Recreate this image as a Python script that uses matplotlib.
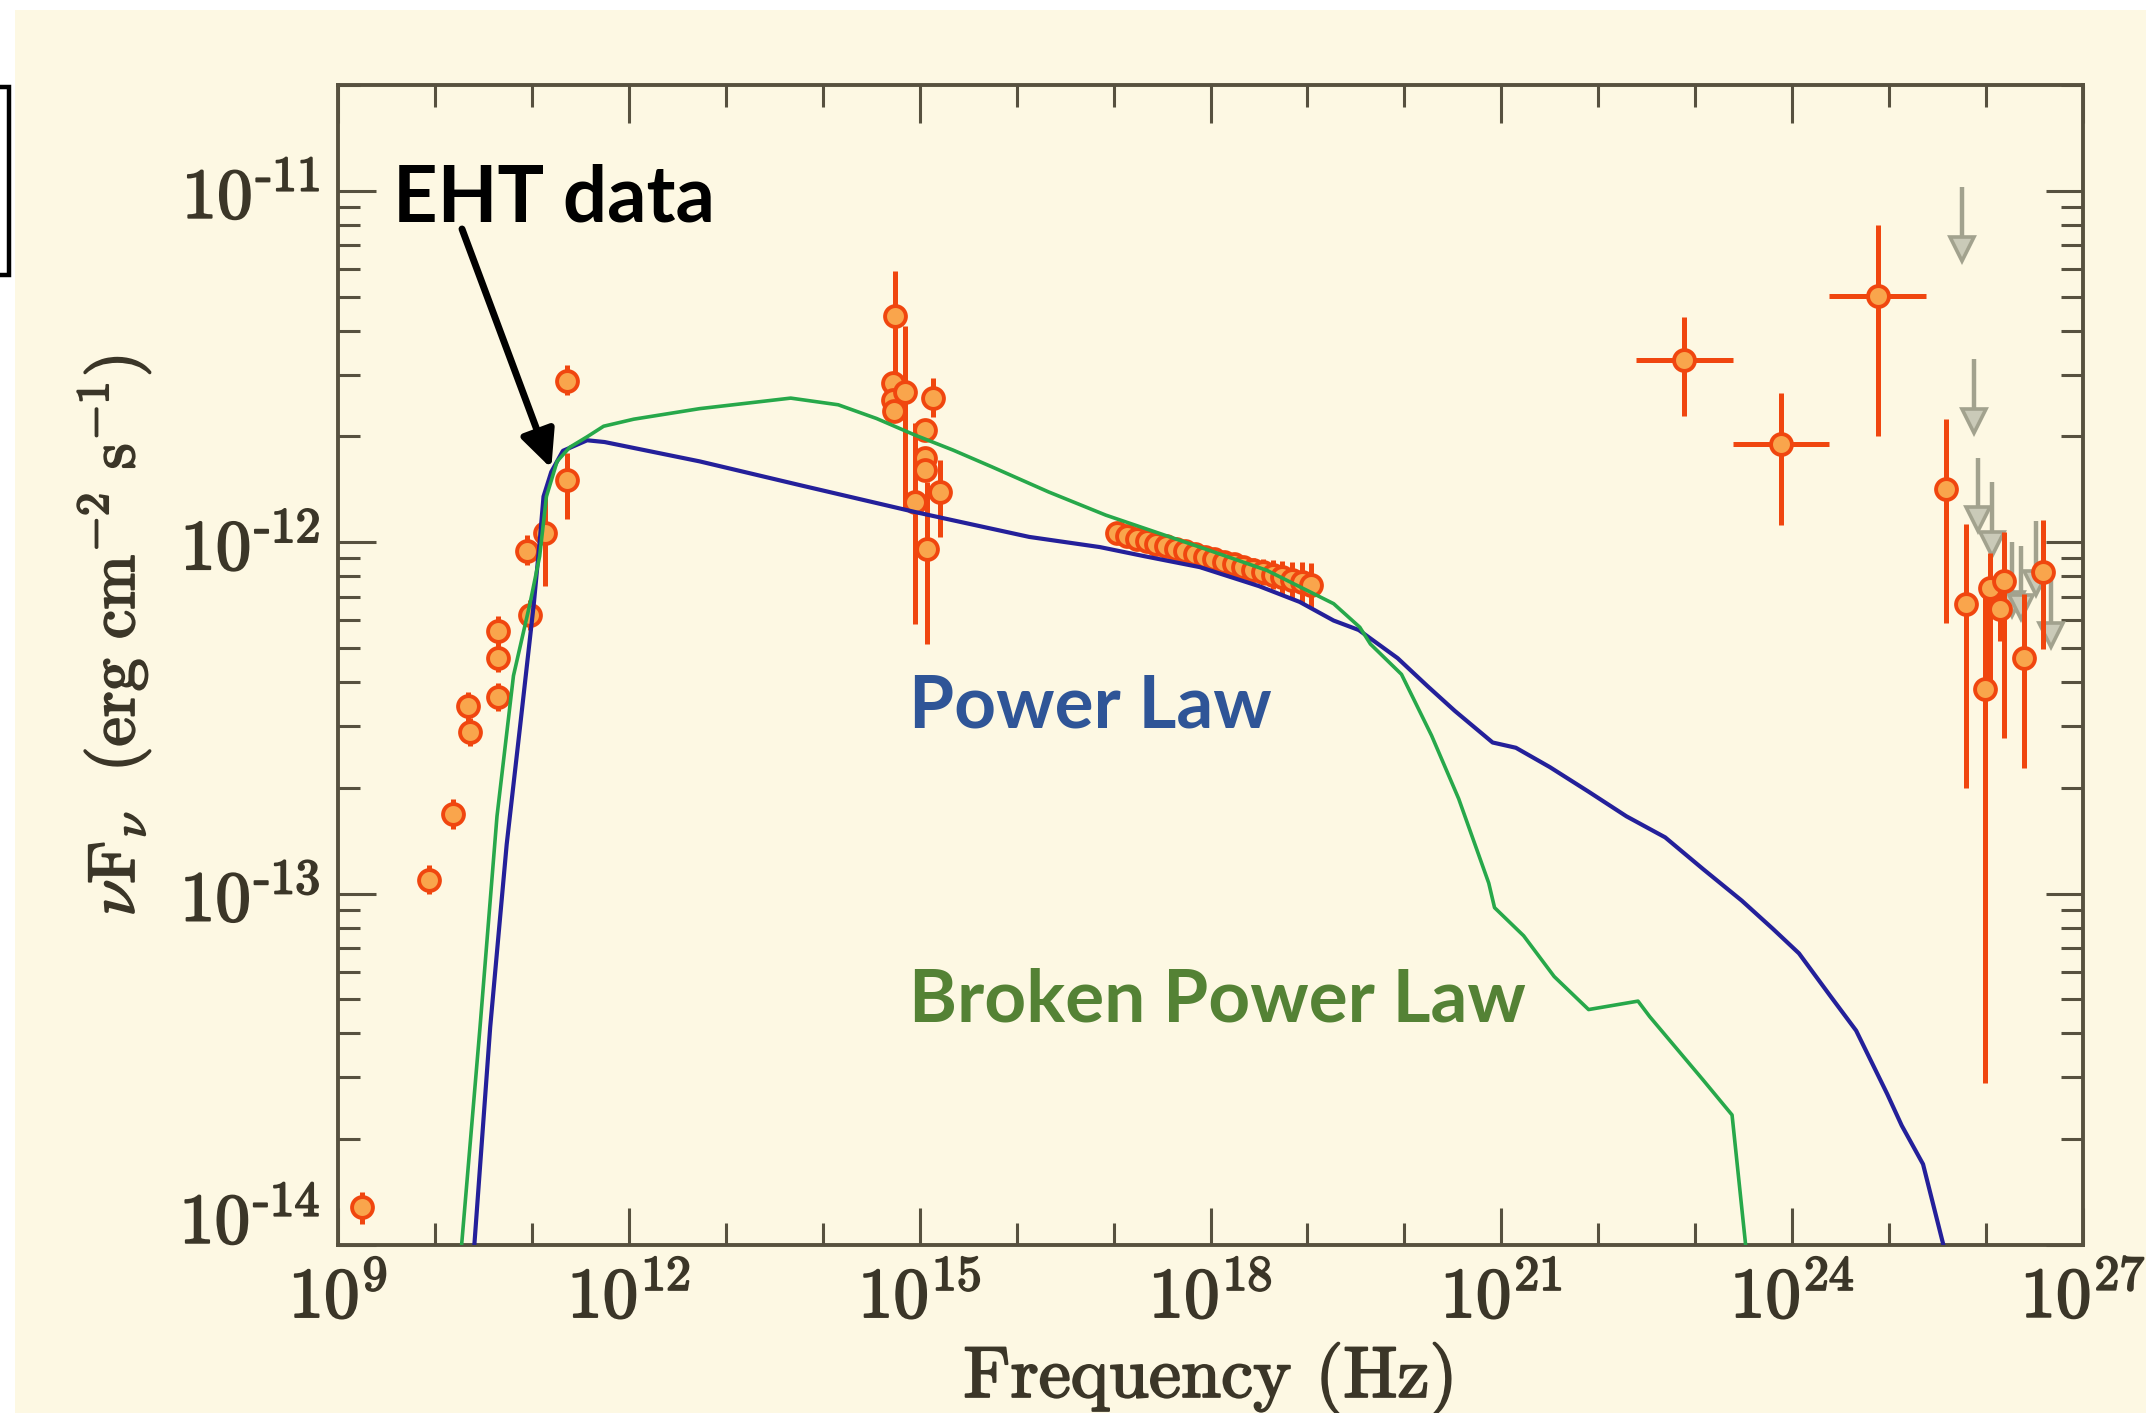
import numpy as np
import matplotlib
matplotlib.use('Agg')
import matplotlib.pyplot as plt
import matplotlib.patheffects as pe
from matplotlib.patches import Rectangle
from matplotlib.ticker import FixedLocator, LogLocator, NullFormatter
from matplotlib.transforms import ScaledTranslation

plt.rcParams['mathtext.fontset'] = 'cm'

# ---- model curves (log10 nu [Hz], log10 nuFnu [erg cm^-2 s^-1]) ----
pl_lognu = [10.38, 10.57, 10.74, 10.88, 11.02, 11.08, 11.12, 11.20, 11.32, 11.57,
            11.75, 12.73, 13.77, 14.95, 16.13, 16.86, 17.32, 17.89, 18.50, 18.92,
            19.27, 19.53, 19.93, 20.24, 20.52, 20.91, 21.15, 21.50, 21.90, 22.29,
            22.69, 23.08, 23.48, 23.80, 24.07, 24.39, 24.66, 24.98, 25.13, 25.35,
            25.56, 25.60]
pl_logf = [-14.10, -13.38, -12.86, -12.52, -12.175, -12.00, -11.87, -11.80, -11.74, -11.71,
           -11.715, -11.77, -11.838, -11.914, -11.985, -12.014, -12.04, -12.071, -12.125, -12.17,
           -12.223, -12.25, -12.33, -12.41, -12.48, -12.57, -12.585, -12.64, -12.71, -12.78,
           -12.84, -12.93, -13.02, -13.10, -13.17, -13.29, -13.39, -13.57, -13.66, -13.77,
           -14.00, -14.05]

bpl_lognu = [10.25, 10.275, 10.465, 10.64, 10.81, 10.98, 11.08, 11.15, 11.26, 11.39,
             11.57, 11.74, 12.05, 12.73, 13.67, 14.16, 14.555, 14.95, 15.345, 15.74,
             16.33, 16.92, 17.89, 18.58, 19.27, 19.54, 19.65, 19.97, 20.28, 20.56,
             20.87, 20.93, 21.23, 21.545, 21.90, 22.41, 22.53, 23.08, 23.38, 23.52,
             23.53]
bpl_logf = [-14.10, -14.00, -13.38, -12.78, -12.38, -12.175, -12.04, -11.87, -11.77, -11.73,
            -11.70, -11.67, -11.65, -11.62, -11.59, -11.609, -11.648, -11.695, -11.738, -11.785,
            -11.857, -11.923, -12.014, -12.08, -12.175, -12.242, -12.29, -12.376, -12.55, -12.73,
            -12.97, -13.04, -13.12, -13.236, -13.33, -13.306, -13.35, -13.53, -13.63, -14.00,
            -14.10]

# ---- measurements ----
radio_lognu = [9.244, 9.942, 10.19, 10.362, 10.345, 10.647, 10.647, 10.647, 10.98, 10.946,
               11.135, 11.359, 11.359]
radio_logf = [-13.893, -12.962, -12.773, -12.54, -12.467, -12.44, -12.33, -12.253, -12.206, -12.024,
              -11.974, -11.823, -11.54]
radio_hi = [-13.85, -12.92, -12.73, -12.50, -12.425, -12.40, -12.29, -12.21, -12.165, -11.98,
            -11.866, -11.746, -11.497]
radio_lo = [-13.94, -13.00, -12.815, -12.58, -12.51, -12.48, -12.37, -12.295, -12.25, -12.065,
            -12.124, -11.935, -11.58]

opt_lognu = [14.745, 14.72, 14.73, 14.74, 14.85, 15.14, 15.05, 15.05, 15.05, 15.205, 14.95, 15.075]
opt_logf = [-11.357, -11.547, -11.595, -11.628, -11.574, -11.59, -11.68, -11.76, -11.795, -11.857,
            -11.885, -12.02]
opt_hi = [-11.229, -11.52, -11.57, -11.60, -11.386, -11.533, -11.65, -11.73, -11.77, -11.766,
          -11.662, -11.83]
opt_lo = [-11.538, -11.575, -11.62, -11.655, -11.909, -11.643, -11.71, -11.79, -11.82, -11.985,
          -12.232, -12.29]

xray_lognu = [17.04, 17.14, 17.24, 17.34, 17.44, 17.54, 17.64, 17.74, 17.84, 17.94, 18.04,
              18.14, 18.24, 18.34, 18.44, 18.54, 18.64, 18.74, 18.84, 18.94, 19.04]
xray_logf = [-11.975, -11.982, -11.990, -11.997, -12.004, -12.012, -12.019, -12.026, -12.034,
             -12.041, -12.048, -12.056, -12.063, -12.070, -12.078, -12.085, -12.092, -12.100,
             -12.107, -12.114, -12.122]
xray_dex = [0.010, 0.010, 0.012, 0.012, 0.014, 0.015, 0.016, 0.018, 0.020, 0.022, 0.024,
            0.026, 0.028, 0.031, 0.034, 0.038, 0.042, 0.047, 0.052, 0.058, 0.064]

gam_lognu = [22.885, 23.885, 24.885]
gam_logf = [-11.482, -11.722, -11.30]
gam_hi = [-11.36, -11.575, -11.097]
gam_lo = [-11.642, -11.95, -11.697]
gam_nu_lo = [22.385, 23.385, 24.385]
gam_nu_hi = [23.385, 24.385, 25.385]

vhe_lognu = [25.59, 25.79, 25.99, 26.04, 26.145, 26.185, 26.39, 26.59]
vhe_logf = [-11.85, -12.175, -12.418, -12.13, -12.19, -12.111, -12.33, -12.084]
vhe_hi = [-11.649, -11.947, -12.12, -12.03, -12.12, -11.97, -12.148, -11.936]
vhe_lo = [-12.23, -12.70, -13.54, -12.42, -12.28, -12.558, -12.644, -12.305]

# upper limits (arrow starts at the limit)
ul_lognu = [25.757, 25.875, 25.92, 26.06, 26.265, 26.365, 26.52, 26.67]
ul_logf = [-10.99, -11.48, -11.76, -11.83, -12.00, -12.01, -11.94, -12.09]

xtick_exp = [9, 12, 15, 18, 21, 24, 27]
ytick_exp = [-14, -13, -12, -11]

# ---- styling ----
W, H, DPI = 2146, 1413, 100
CREAM = '#fdf8e3'
INK = '#3b3628'
SPINE = '#57513f'
RED = '#f0460f'
ORANGE = '#f9a54c'
GREY = '#a2a28e'
GREY_FILL = '#cacab8'
heavy = [pe.withStroke(linewidth=1.4, foreground=INK)]

fig = plt.figure(figsize=(W / DPI, H / DPI), dpi=DPI, facecolor='white')
fig.add_artist(Rectangle((15 / W, 0), 1, 1 - 10 / H, transform=fig.transFigure,
                         facecolor=CREAM, edgecolor='none', zorder=-10))
fig.add_artist(Rectangle((-40 / W, 1 - 275 / H), 49 / W, 188 / H, transform=fig.transFigure,
                         fill=False, edgecolor='black', lw=3.2, zorder=-5))

ax = fig.add_axes([338 / W, 1 - 1245 / H, (2083 - 338) / W, (1245 - 85) / H])
ax.set_facecolor(CREAM)
ax.set_xscale('log')
ax.set_yscale('log')
ax.set_xlim(1e9, 1e27)
ax.set_ylim(1e-14, 2e-11)


def lin(v):
    return 10.0 ** np.asarray(v)


def asym(val, lo, hi):
    val, lo, hi = lin(val), lin(lo), lin(hi)
    return [val - lo, hi - val]


pt = dict(fmt='o', ms=15, mfc=ORANGE, mec=RED, mew=2.8, ecolor=RED,
          elinewidth=3.6, capsize=0, zorder=3)

ax.errorbar(lin(radio_lognu), lin(radio_logf), yerr=asym(radio_logf, radio_lo, radio_hi), **pt)
ax.errorbar(lin(opt_lognu), lin(opt_logf), yerr=asym(opt_logf, opt_lo, opt_hi), **pt)
xr = np.asarray(xray_logf)
xd = np.asarray(xray_dex)
ax.errorbar(lin(xray_lognu), lin(xr), yerr=asym(xr, xr - xd, xr + xd), **pt)
ax.errorbar(lin(gam_lognu), lin(gam_logf), yerr=asym(gam_logf, gam_lo, gam_hi),
            xerr=asym(gam_lognu, gam_nu_lo, gam_nu_hi), **pt)
ax.errorbar(lin(vhe_lognu), lin(vhe_logf), yerr=asym(vhe_logf, vhe_lo, vhe_hi), **pt)

# upper-limit arrows
for lx, ly in zip(ul_lognu, ul_logf):
    ax.plot(lin([lx, lx]), lin([ly, ly - 0.17]), color=GREY, lw=3.2, zorder=2.5,
            solid_capstyle='butt')
    ax.plot(lin(lx), lin(ly - 0.175), marker='v', ms=17, mfc=GREY_FILL, mec=GREY,
            mew=2.6, zorder=2.6)

ax.plot(lin(pl_lognu), lin(pl_logf), color='#24209a', lw=3.0, zorder=4)
ax.plot(lin(bpl_lognu), lin(bpl_logf), color='#27a84a', lw=2.6, zorder=5)

# axes, ticks
for s in ax.spines.values():
    s.set_color(SPINE)
    s.set_linewidth(2.8)

ax.set_xticks(lin(xtick_exp), labels=[r'$10^{%d}$' % e for e in xtick_exp])
ax.xaxis.set_minor_locator(FixedLocator(lin(np.arange(9, 28))))
ax.xaxis.set_minor_formatter(NullFormatter())
ax.set_yticks(lin(ytick_exp), labels=[r'$10^{\text{-}%d}$' % -e for e in ytick_exp])
ax.yaxis.set_minor_locator(LogLocator(base=10, subs=np.arange(2, 10), numticks=50))
ax.yaxis.set_minor_formatter(NullFormatter())

ax.tick_params(which='both', direction='in', top=True, right=True, color=SPINE,
               labelcolor=INK, width=2.2)
ax.tick_params(which='major', length=27, labelsize=51, pad=13)
ax.tick_params(which='minor', length=16)
for lab in ax.get_xticklabels() + ax.get_yticklabels():
    lab.set_path_effects(heavy)

ax.set_xlabel('Frequency (Hz)', fontsize=52, color=INK, family='cmr10')
ax.xaxis.set_label_coords(0.5, -0.083)
ax.set_ylabel(r'$\nu\mathrm{F}_\nu\ \ (\mathrm{erg\ cm^{-2}\ s^{-1}})$', fontsize=47.5, color=INK)
ax.yaxis.set_label_coords(-0.106, 0.525)
ax.xaxis.label.set_path_effects(heavy)
ax.yaxis.label.set_path_effects(heavy)

# lowest y label sits a little above its tick
lab = ax.yaxis.get_major_ticks()[0].label1
lab.set_transform(lab.get_transform() + ScaledTranslation(0, 21 / 72, fig.dpi_scale_trans))

# annotations
ax.annotate('', xy=(lin(11.2), lin(-11.79)), xycoords='data',
            xytext=(462 / W, 1 - 229 / H), textcoords='figure fraction',
            arrowprops=dict(arrowstyle='-|>,head_length=1.6,head_width=0.75', mutation_scale=14,
                            lw=5, color='black', shrinkA=0, shrinkB=0), zorder=6)
fig.text(393 / W, 1 - 221 / H, 'EHT data', family='Lato', weight='bold', fontsize=56,
         color='black', va='baseline')
fig.text(909 / W, 1 - 727 / H, 'Power Law', family='Lato', weight='bold', fontsize=52.5,
         color='#2f5597', va='baseline')
fig.text(909 / W, 1 - 1022 / H, 'Broken Power Law', family='Lato', weight='bold', fontsize=52.5,
         color='#548235', va='baseline')

fig.savefig('out.png', dpi=DPI, facecolor=fig.get_facecolor())
